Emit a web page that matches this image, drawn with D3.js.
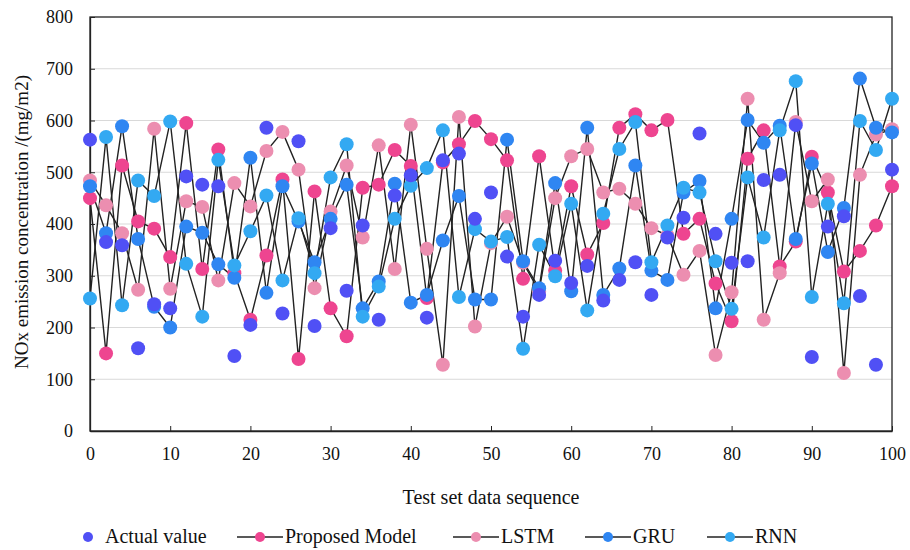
<!DOCTYPE html>
<html><head><meta charset="utf-8">
<script src="https://cdn.jsdelivr.net/npm/d3@7"></script>
<style>body{margin:0;background:#fff}svg{display:block}</style>
</head><body><svg id="c" width="910" height="550"></svg>
<script>
const xs = d3.range(0, 101, 2);
const actual   = [563,365,359,160,245,237,492,476,473,145,205,586,227,560,203,392,271,397,215,455,494,219,523,536,410,461,337,221,263,329,286,319,252,292,326,263,374,412,575,381,325,328,485,495,591,143,395,415,261,128,505];
const proposed = [450,150,513,405,391,336,595,313,544,305,215,339,486,139,463,237,183,470,476,543,512,257,519,554,599,564,523,294,531,310,473,341,402,586,612,581,601,381,410,285,212,526,581,318,366,530,461,308,348,397,473];
const lstm     = [484,436,382,273,584,275,444,433,291,479,434,541,578,505,276,424,513,374,552,313,592,352,128,607,202,363,414,325,270,450,531,545,461,468,439,392,378,302,348,147,268,642,215,305,597,444,486,112,495,573,583];
const gru      = [473,382,589,371,240,200,395,383,322,296,528,267,473,405,326,410,476,237,289,478,248,263,368,454,254,254,563,328,276,479,270,586,263,314,513,310,292,461,483,237,410,601,557,590,371,517,346,431,681,586,577];
const rnn      = [256,568,243,484,454,598,323,221,524,320,386,455,291,411,305,490,554,221,279,410,474,508,581,259,390,366,375,159,360,299,439,233,420,545,597,326,397,470,461,328,236,490,374,581,676,259,439,247,599,543,642];
const yTicks = [0,100,200,300,400,500,600,700,800];
const xTicks = [0,10,20,30,40,50,60,70,80,90,100];
const seriesNames = ["Actual value","Proposed Model","LSTM","GRU","RNN"];
const colors = ["#5050F5","#EE4590","#EC8EB0","#2F86F2","#33A9F2"];

const svg = d3.select("#c");
const font = "'Liberation Serif','Times New Roman',serif";
const L = 90, R = 892, T = 17, B = 431;
const x = d3.scaleLinear().domain([0,100]).range([L,R]);
const y = d3.scaleLinear().domain([0,800]).range([B,T]);

// gridlines
svg.append("g").selectAll("line").data(yTicks.filter(d=>d>0&&d<800)).join("line")
  .attr("x1",L).attr("x2",R).attr("y1",d=>y(d)).attr("y2",d=>y(d))
  .attr("stroke","#d9d9d9").attr("stroke-width",1.2);

// frame
svg.append("rect").attr("x",L).attr("y",T).attr("width",R-L).attr("height",B-T)
  .attr("fill","none").attr("stroke","#222").attr("stroke-width",1.3);

// axes
const gy = svg.append("g").attr("transform",`translate(${L},0)`)
  .call(d3.axisLeft(y).tickValues(yTicks).tickSizeInner(-5).tickSizeOuter(0).tickPadding(17));
const gx = svg.append("g").attr("transform",`translate(0,${B})`)
  .call(d3.axisBottom(x).tickValues(xTicks).tickSizeInner(-5).tickSizeOuter(0).tickPadding(16));
[gy,gx].forEach(g=>{
  g.select(".domain").attr("stroke","#222").attr("stroke-width",1.3);
  g.selectAll(".tick line").attr("stroke","#222");
  g.selectAll("text").attr("font-family",font).attr("font-size",18).attr("fill","#111");
});

// titles
svg.append("text").attr("x",(L+R)/2).attr("y",504).attr("text-anchor","middle")
  .attr("font-family",font).attr("font-size",20).attr("fill","#111").text("Test set data sequence");
svg.append("text").attr("transform","translate(28,222) rotate(-90)").attr("text-anchor","middle")
  .attr("font-family",font).attr("font-size",19).attr("fill","#111").text("NOx emission concentration /(mg/m2)");

// lines
const lineSeries = [proposed,lstm,gru,rnn];
const line = d3.line().x((d,i)=>x(xs[i])).y(d=>y(d));
svg.append("g").selectAll("path").data(lineSeries).join("path")
  .attr("d",d=>line(d)).attr("fill","none").attr("stroke","#222").attr("stroke-width",1.4);

// markers: Proposed, LSTM, GRU, RNN, then Actual on top
const order = [1,2,3,4,0];
const all = [actual,proposed,lstm,gru,rnn];
order.forEach(k=>{
  svg.append("g").selectAll("circle").data(all[k]).join("circle")
    .attr("cx",(d,i)=>x(xs[i])).attr("cy",d=>y(d)).attr("r",7).attr("fill",colors[k]);
});

// legend
const ly = 537;
const lg = svg.append("g");
lg.append("circle").attr("cx",88).attr("cy",ly).attr("r",5).attr("fill",colors[0]);
lg.append("text").attr("x",105).attr("y",ly+6).attr("font-family",font).attr("font-size",20).attr("fill","#111").text(seriesNames[0]);
const lx = [237,453,585,707];
[1,2,3,4].forEach((k,j)=>{
  const x0 = lx[j];
  lg.append("line").attr("x1",x0).attr("x2",x0+46).attr("y1",ly).attr("y2",ly).attr("stroke","#222").attr("stroke-width",1.4);
  lg.append("circle").attr("cx",x0+23).attr("cy",ly).attr("r",5).attr("fill",colors[k]);
  lg.append("text").attr("x",x0+48).attr("y",ly+6).attr("font-family",font).attr("font-size",20).attr("fill","#111").text(seriesNames[k]);
});
</script></body></html>
